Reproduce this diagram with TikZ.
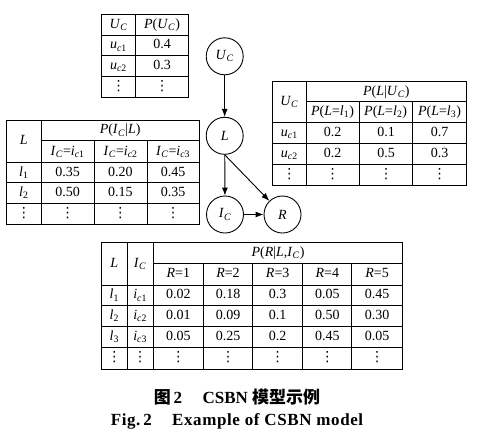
\documentclass[tikz,border=0pt]{standalone}
\usepackage{fontspec}
\setmainfont{Liberation Serif}
\newfontfamily\cjk{Noto Sans CJK SC}
\newfontfamily\symf{DejaVu Sans}
\newfontfamily\capf{Liberation Serif}[LetterSpace=3.5]
\usetikzlibrary{arrows.meta}

\newcommand\UC{\textit{U}\textsubscript{\textit{C}}}
\newcommand\IC{\textit{I}\textsubscript{\textit{C}}}
\newcommand\cv[2]{\textit{#1}\textsubscript{\textit{c}#2}}
\newcommand\lv[1]{\textit{l}\textsubscript{#1}}
\newcommand\vd{{\symf ⋮}}

\tikzset{
  tab/.style={line width=0.9pt},
  cell/.style={inner sep=0pt,text height=9.5pt,text depth=2.5pt},
  var/.style={draw,circle,line width=0.9pt,minimum size=37pt,inner sep=0pt},
  arr/.style={-{Latex[length=8pt,width=6pt]},line width=0.9pt}
}

\begin{document}
\begin{tikzpicture}[x=1pt,y=-1pt,font=\fontsize{14}{16}\selectfont]
\useasboundingbox (0,0) rectangle (479,445);

% table P(U_C)
\draw[tab] (101.7,14.3) rectangle (188.7,97.3) (135.3,14.3) -- (135.3,97.3);
\foreach \y in {35,55.7,76.7} \draw[tab] (101.7,\y) -- (188.7,\y);
\node[cell] (a-0-1) at (118.5,24.65) {\UC};
\node[cell] (a-0-2) at (162,24.65) {\textit{P}(\UC)};
\foreach \a/\b/\y [count=\i] in {\cv{u}{1}/0.4/45.35,\cv{u}{2}/0.3/66.2,\vd/\vd/87}{
  \node[cell] (a-\i-1) at (118.5,\y) {\a};
  \node[cell] (a-\i-2) at (162,\y) {\b};
}

% table P(L|U_C)
\draw[tab] (272.7,81.7) rectangle (466.7,185) (306,101.7) -- (466.7,101.7);
\foreach \y in {122.7,143.3,164} \draw[tab] (272.7,\y) -- (466.7,\y);
\draw[tab] (306,81.7) -- (306,185);
\foreach \x in {359,412.3} \draw[tab] (\x,101.7) -- (\x,185);
\node[cell] (b-uc) at (289.35,102.2) {\UC};
\node[cell] (b-p) at (386.35,91.7) {\textit{P}(\textit{L}|\UC)};
\foreach \t/\x in {1/332.5,2/385.65,3/439.5}
  \node[cell] (b-h\t) at (\x,112.2) {\textit{P}(\textit{L}=\lv{\t})};
\foreach \ri/\vals/\y [count=\i] in {\cv{u}{1}/{0.2,0.1,0.7}/133,\cv{u}{2}/{0.2,0.5,0.3}/153.65,\vd/{\vd,\vd,\vd}/174.5}{
  \node[cell] (b-\i-1) at (289.35,\y) {\ri};
  \foreach \v [count=\j from 2] in \vals {
    \pgfmathsetmacro\xx{332.5+53.5*(\j-2)}
    \node[cell] (b-\i-\j) at (\xx,\y) {\v};
  }
}

% table P(I_C|L)
\draw[tab] (6.7,120) rectangle (199.3,224) (41,140.7) -- (199.3,140.7);
\foreach \y in {162.3,182.7,203.3} \draw[tab] (6.7,\y) -- (199.3,\y);
\draw[tab] (41,120) -- (41,224);
\foreach \x in {94.3,147} \draw[tab] (\x,140.7) -- (\x,224);
\node[cell] (c-l) at (23.85,141.15) {\textit{L}};
\node[cell] (c-p) at (120.15,130.35) {\textit{P}(\IC|\textit{L})};
\foreach \t/\x in {1/67.65,2/120.65,3/173.15}
  \node[cell] (c-h\t) at (\x,151.5) {\IC=\cv{i}{\t}};
\foreach \ri/\vals/\y [count=\i] in {\lv{1}/{0.35,0.20,0.45}/172.5,\lv{2}/{0.50,0.15,0.35}/193,\vd/{\vd,\vd,\vd}/213.65}{
  \node[cell] (c-\i-1) at (23.85,\y) {\ri};
  \foreach \v [count=\j from 2] in \vals {
    \pgfmathsetmacro\xx{67.65+52.75*(\j-2)}
    \node[cell] (c-\i-\j) at (\xx,\y) {\v};
  }
}

% table P(R|L,I_C)
\draw[tab] (101.7,242.7) rectangle (402.7,369) (153.3,263.3) -- (402.7,263.3);
\foreach \y in {285,305.7,326.7,347.3} \draw[tab] (101.7,\y) -- (402.7,\y);
\foreach \x in {127,153.3} \draw[tab] (\x,242.7) -- (\x,369);
\foreach \x in {203.3,252.7,302.3,351.7} \draw[tab] (\x,263.3) -- (\x,369);
\node[cell] (d-l) at (114.35,263.85) {\textit{L}};
\node[cell] (d-ic) at (140.15,263.85) {\IC};
\node[cell] (d-p) at (278,253) {\textit{P}(\textit{R}|\textit{L},\IC)};
\foreach \t in {1,...,5}{
  \pgfmathsetmacro\xx{178.3+49.7*(\t-1)}
  \node[cell] (d-h\t) at (\xx,274.15) {\textit{R}=\t};
}
\foreach \rl/\ri/\vals/\y [count=\i] in {
  \lv{1}/\cv{i}{1}/{0.02,0.18,0.3,0.05,0.45}/295.35,
  \lv{2}/\cv{i}{2}/{0.01,0.09,0.1,0.50,0.30}/316.2,
  \lv{3}/\cv{i}{3}/{0.05,0.25,0.2,0.45,0.05}/337,
  \vd/\vd/{\vd,\vd,\vd,\vd,\vd}/358.15}{
  \node[cell] (d-\i-1) at (114.35,\y) {\rl};
  \node[cell] (d-\i-2) at (140.15,\y) {\ri};
  \foreach \v [count=\j from 3] in \vals {
    \pgfmathsetmacro\xx{178.3+49.7*(\j-3)}
    \node[cell] (d-\i-\j) at (\xx,\y) {\v};
  }
}

% network
\node[var] (uc) at (224.7,56.3) {\UC};
\node[var] (l) at (224.7,135.8) {\textit{L}};
\node[var] (ic) at (225,214.5) {\IC};
\node[var] (r) at (282.5,214.5) {\textit{R}};
\draw[arr] (uc) -- (l);
\draw[arr] (l) -- (ic);
\draw[arr] (l.south) -- (r);
\draw[arr] (ic) -- (r);

% caption
\node (cap-cn) at (237,396.7) {\fontsize{17}{20}\selectfont\bfseries{\cjk 图}\,2\hspace{1.2em}CSBN {\cjk 模型示例}};
\node (cap-en) at (237,421.7) {\fontsize{17}{20}\selectfont\capf\bfseries Fig.\,2\hspace{1.2em}Example of CSBN model};

\end{tikzpicture}
\end{document}
